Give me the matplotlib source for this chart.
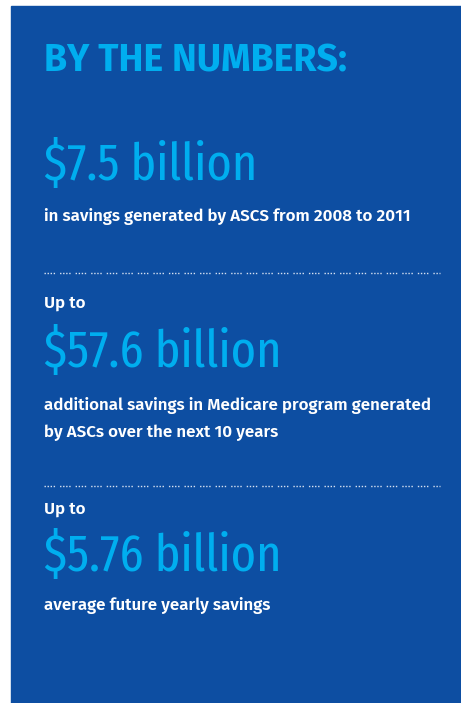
import matplotlib.pyplot as plt
from matplotlib.patches import Rectangle

W, H = 461, 703

bg_blue = "#0d4ea2"
light_blue = "#00aeef"

title = "BY THE NUMBERS:"
intro_labels = ["", "Up to", "Up to"]
amounts = ["$7.5 billion", "$57.6 billion", "$5.76 billion"]
descriptions = [
    ["in savings generated by ASCS from 2008 to 2011"],
    ["additional savings in Medicare program generated",
     "by ASCs over the next 10 years"],
    ["average future yearly savings"],
]

fig = plt.figure(figsize=(W / 100, H / 100), dpi=100)
ax = fig.add_axes([0, 0, 1, 1])
ax.set_xlim(0, W)
ax.set_ylim(H, 0)
ax.axis("off")

# blue panel, white margin on left and top
ax.add_patch(Rectangle((11, 6), W - 11, H - 6, color=bg_blue, zorder=0))

x0 = 44

# baselines (pixels from top)
title_y = 72
intro_y = [None, 308, 514]
amount_y = [180, 367, 571]
desc_y = [221, 410, 610]
desc_step = 27

renderer = fig.canvas.get_renderer()


def fit_width(t, target):
    bb = t.get_window_extent(renderer)
    t.set_fontsize(t.get_fontsize() * target / bb.width)
    return t.get_fontsize()


t = ax.text(x0, title_y, title, family="Fira Sans", weight="bold",
            fontsize=24, color=light_blue, va="baseline")
fit_width(t, 303)

# sizes taken from the first block, reused for others
probe = ax.text(x0, amount_y[0], amounts[0], family="Fira Sans Extra Condensed",
                weight="normal", fontsize=42, color=light_blue, va="baseline")
big_size = fit_width(probe, 213)
probe.remove()

probe = ax.text(x0, desc_y[0], descriptions[0][0], family="Fira Sans",
                weight=600, fontsize=10.5, color="white", va="baseline")
small_size = fit_width(probe, 367)
probe.remove()

for i in range(3):
    if intro_labels[i]:
        ax.text(x0, intro_y[i], intro_labels[i], family="Fira Sans",
                weight=600, fontsize=small_size, color="white", va="baseline")
    ax.text(x0, amount_y[i], amounts[i], family="Fira Sans Extra Condensed",
            weight="normal", fontsize=big_size, color=light_blue, va="baseline")
    for j, line in enumerate(descriptions[i]):
        ax.text(x0, desc_y[i] + j * desc_step, line, family="Fira Sans",
                weight=600, fontsize=small_size, color="white", va="baseline")

# dotted separators (groups of dots like typed ellipses)
for y in [273, 486]:
    ax.plot([x0, 440], [y, y], color="#d6e0f0", linewidth=1.0,
            linestyle=(0, (1, 1.2, 1, 1.2, 1, 1.2, 1, 3.6)))

fig.savefig("out.png", dpi=100)
